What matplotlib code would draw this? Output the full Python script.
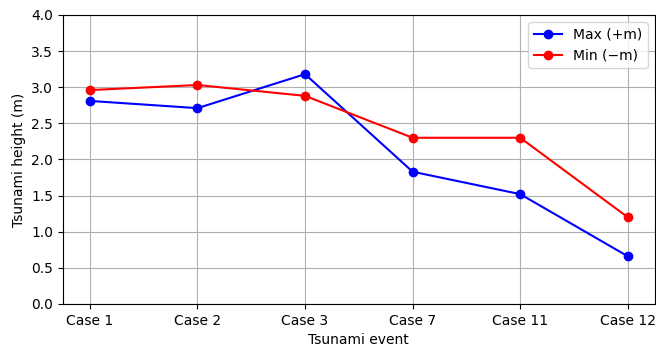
import matplotlib.pyplot as plt

# Tsunami heights per event (m)
cases = ["Case 1", "Case 2", "Case 3", "Case 7", "Case 11", "Case 12"]
max_heights = [2.81, 2.71, 3.18, 1.83, 1.52, 0.66]
min_heights = [2.96, 3.03, 2.88, 2.30, 2.30, 1.20]

fig = plt.figure(figsize=(6.56, 3.47), dpi=100)
ax = fig.add_axes([0.096, 0.124, 0.902, 0.833])

ax.plot(cases, max_heights, "o-", color="blue", label="Max (+m)", markersize=6)
ax.plot(cases, min_heights, "o-", color="red", label="Min (\u2212m)", markersize=6)

ax.set_ylim(0, 4.0)
ax.set_yticks([0.0, 0.5, 1.0, 1.5, 2.0, 2.5, 3.0, 3.5, 4.0])
ax.set_xlabel("Tsunami event")
ax.set_ylabel("Tsunami height (m)")
ax.grid(True)
ax.legend(loc="upper right")

fig.savefig("out.png", dpi=100)
